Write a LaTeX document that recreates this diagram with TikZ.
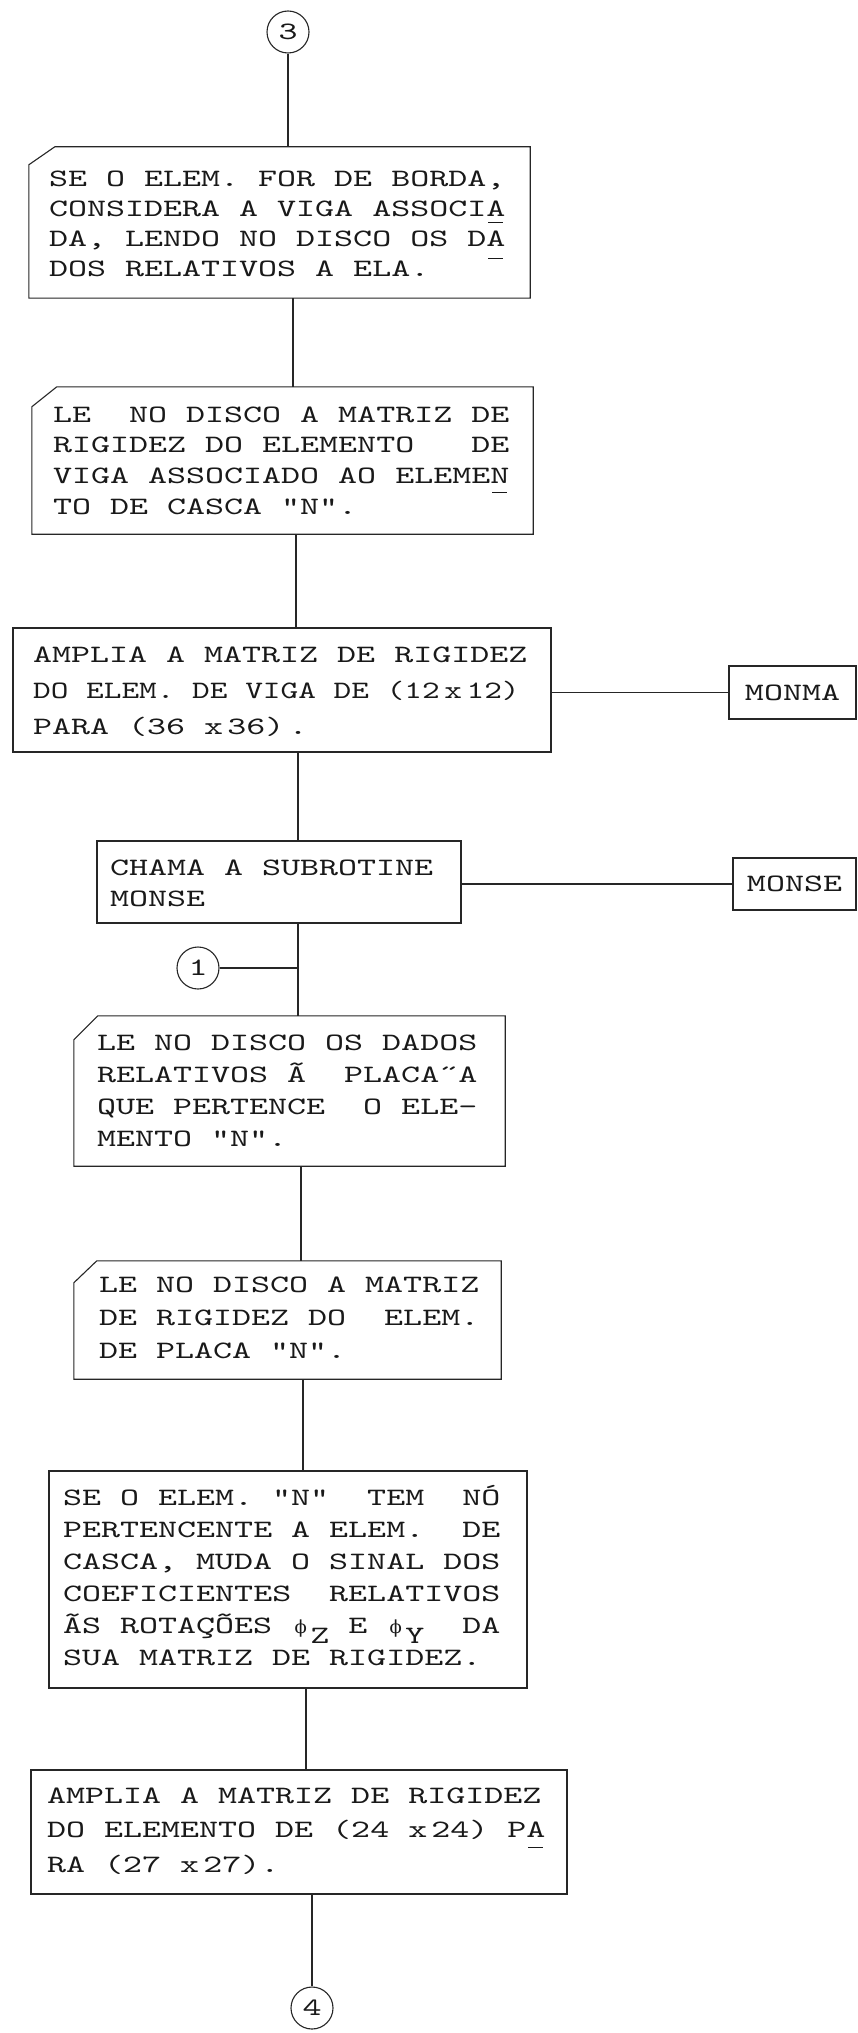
\documentclass[tikz,border=0pt]{standalone}
\usepackage{fontspec}
\usepackage{graphicx}
\newfontfamily\tw[FakeStretch=1.448]{lmmono10-regular.otf}
\newfontfamily\dvs{DejaVu Serif}
\newcommand\twf{\tw\fontsize{25pt}{30pt}\selectfont\fontdimen2\font=19pt\fontdimen3\font=0pt\fontdimen4\font=0pt\relax}
\newcommand\tx[2]{\parbox[t]{640pt}{\twf\lineskiplimit=-100pt\raggedright\setlength\baselineskip{#1}#2\par}}
\newcommand\hy[2]{\makebox[0pt][l]{\hspace{2pt}\rule[-#1pt]{15pt}{1pt}}#2}
\newcommand\PH{\makebox[19pt]{\dvs\fontsize{18pt}{18pt}\selectfont ϕ}}
\newcommand\lo[1]{\raisebox{-10pt}{#1}}
\newcommand\cardline[3]{\draw[ln] ([xshift=#2pt]#1.north west) -- (#1.north east) -- (#1.south east) -- (#1.south west) -- ([yshift=-#3pt]#1.north west) -- cycle;}
\tikzset{
  ln/.style={line width=1.1pt, draw=black!85},
  box/.style={draw=black!85, line width=1.1pt, inner sep=0pt},
  card/.style={inner sep=0pt},
  conn/.style={circle, draw=black!85, line width=1.1pt, minimum size=42pt, inner sep=0pt, font=\twf, text=black!90},
  txt/.style={anchor=base west, inner sep=0pt, text=black!90},
  sub/.style={box, font=\twf, text=black!90},
}
\begin{document}
\begin{tikzpicture}[x=1pt,y=-1pt]
\fill[white] (0,0) rectangle (858,2033);
\useasboundingbox (0,0) rectangle (858,2033);

\coordinate (k1) at (293,0);
\coordinate (k2) at (296,0);
\coordinate (k3) at (298,0);
\coordinate (k4) at (301,0);
\coordinate (k5) at (303,0);
\coordinate (k6) at (306,0);

% connector 3
\node[conn] (c3) at (288,32) {3};

% box 1
\node[card, minimum width=501pt, minimum height=151pt] (b1) at (279.5,222.5) {};
\cardline{b1}{26}{18}
\node[txt] (t1) at (49,187) {\tx{30pt}{SE O ELEM. FOR DE BORDA,\\CONSIDERA A VIGA ASSOCI\hy{6}{A}\\DA, LENDO NO DISCO OS D\hy{12}{A}\\DOS RELATIVOS A ELA.}};

% box 2
\node[card, minimum width=501pt, minimum height=147pt] (b2) at (282.5,460.5) {};
\cardline{b2}{25}{20}
\node[txt] (t2) at (53,422) {\tx{30.7pt}{LE~~NO DISCO A MATRIZ DE\\RIGIDEZ DO ELEMENTO~~~DE\\VIGA ASSOCIADO AO ELEME\hy{10}{N}\\TO DE CASCA "N".}};

% box 3
\node[box, minimum width=538pt, minimum height=124pt] (b3) at (282,690) {};
\node[txt] (t3) at (33,662) {\tx{36pt}{AMPLIA A MATRIZ DE RIGIDEZ\\\scalebox{0.93}[1]{DO ELEM. DE VIGA DE (12\hspace{5pt}x\hspace{5pt}12)}\\PARA (36 x\,36)\,.}};
\node[sub, minimum width=127pt, minimum height=53pt] (mm) at (792.5,692.5) {MONMA};

% box 4
\node[box, minimum width=364pt, minimum height=82pt] (b4) at (279,882) {};
\node[txt] (t4) at (110,875) {\tx{31pt}{CHAMA A SUBROTINE\\MONSE}};
\node[sub, minimum width=123pt, minimum height=52pt] (ms) at (794.5,884) {MONSE};

% connector 1
\node[conn] (c1) at (198,968) {1};

% box 5
\node[card, minimum width=431pt, minimum height=150pt] (b5) at (289.5,1091) {};
\cardline{b5}{24}{24}
\node[txt] (t5) at (97,1050) {\tx{32pt}{LE NO DISCO OS DADOS\\RELATIVOS Ã~~PLACA˝A\\QUE PERTENCE~~O ELE-\\MENTO "N".}};

% box 6
\node[card, minimum width=427pt, minimum height=118pt] (b6) at (287.5,1320) {};
\cardline{b6}{23}{22}
\node[txt] (t6) at (99,1292) {\tx{33pt}{LE NO DISCO A MATRIZ\\DE RIGIDEZ DO~~ELEM.\\DE PLACA "N".}};

% box 7
\node[box, minimum width=478pt, minimum height=217pt] (b7) at (288,1579.5) {};
\node[txt] (t7) at (63,1505) {\tx{32pt}{SE O ELEM. "N"~~TEM~~NÓ\\PERTENCENTE A ELEM.~~DE\\CASCA, MUDA O SINAL DOS\\COEFICIENTES~~RELATIVOS\\ÃS ROTAÇÕES \PH\lo{Z} E \PH\lo{Y}~~DA\\SUA MATRIZ DE RIGIDEZ.}};

% box 8
\node[box, minimum width=536pt, minimum height=124pt] (b8) at (299,1832) {};
\node[txt] (t8) at (47,1803) {\tx{34.5pt}{AMPLIA A MATRIZ DE RIGIDEZ\\DO ELEMENTO DE (24 x\,24) P\hy{10}{A}\\RA (27 x\,27).}};

% connector 4
\node[conn] (c4) at (312,2008) {4};

% connectors
\draw[ln] (c3.south) -- (c3.south |- b1.north);
\draw[ln] (b1.south -| k1) -- (b2.north -| k1);
\draw[ln] (b2.south -| k2) -- (b3.north -| k2);
\draw[ln] (mm.west -| b3.east) -- (mm.west);
\draw[ln] (b3.south -| k3) -- (b4.north -| k3);
\draw[ln] (ms.west -| b4.east) -- (ms.west);
\draw[ln] (b4.south -| k3) -- (b5.north -| k3);
\draw[ln] (c1.east) -- (c1.east -| k3);
\draw[ln] (b5.south -| k4) -- (b6.north -| k4);
\draw[ln] (b6.south -| k5) -- (b7.north -| k5);
\draw[ln] (b7.south -| k6) -- (b8.north -| k6);
\draw[ln] (b8.south -| c4) -- (c4.north);
\end{tikzpicture}
\end{document}
